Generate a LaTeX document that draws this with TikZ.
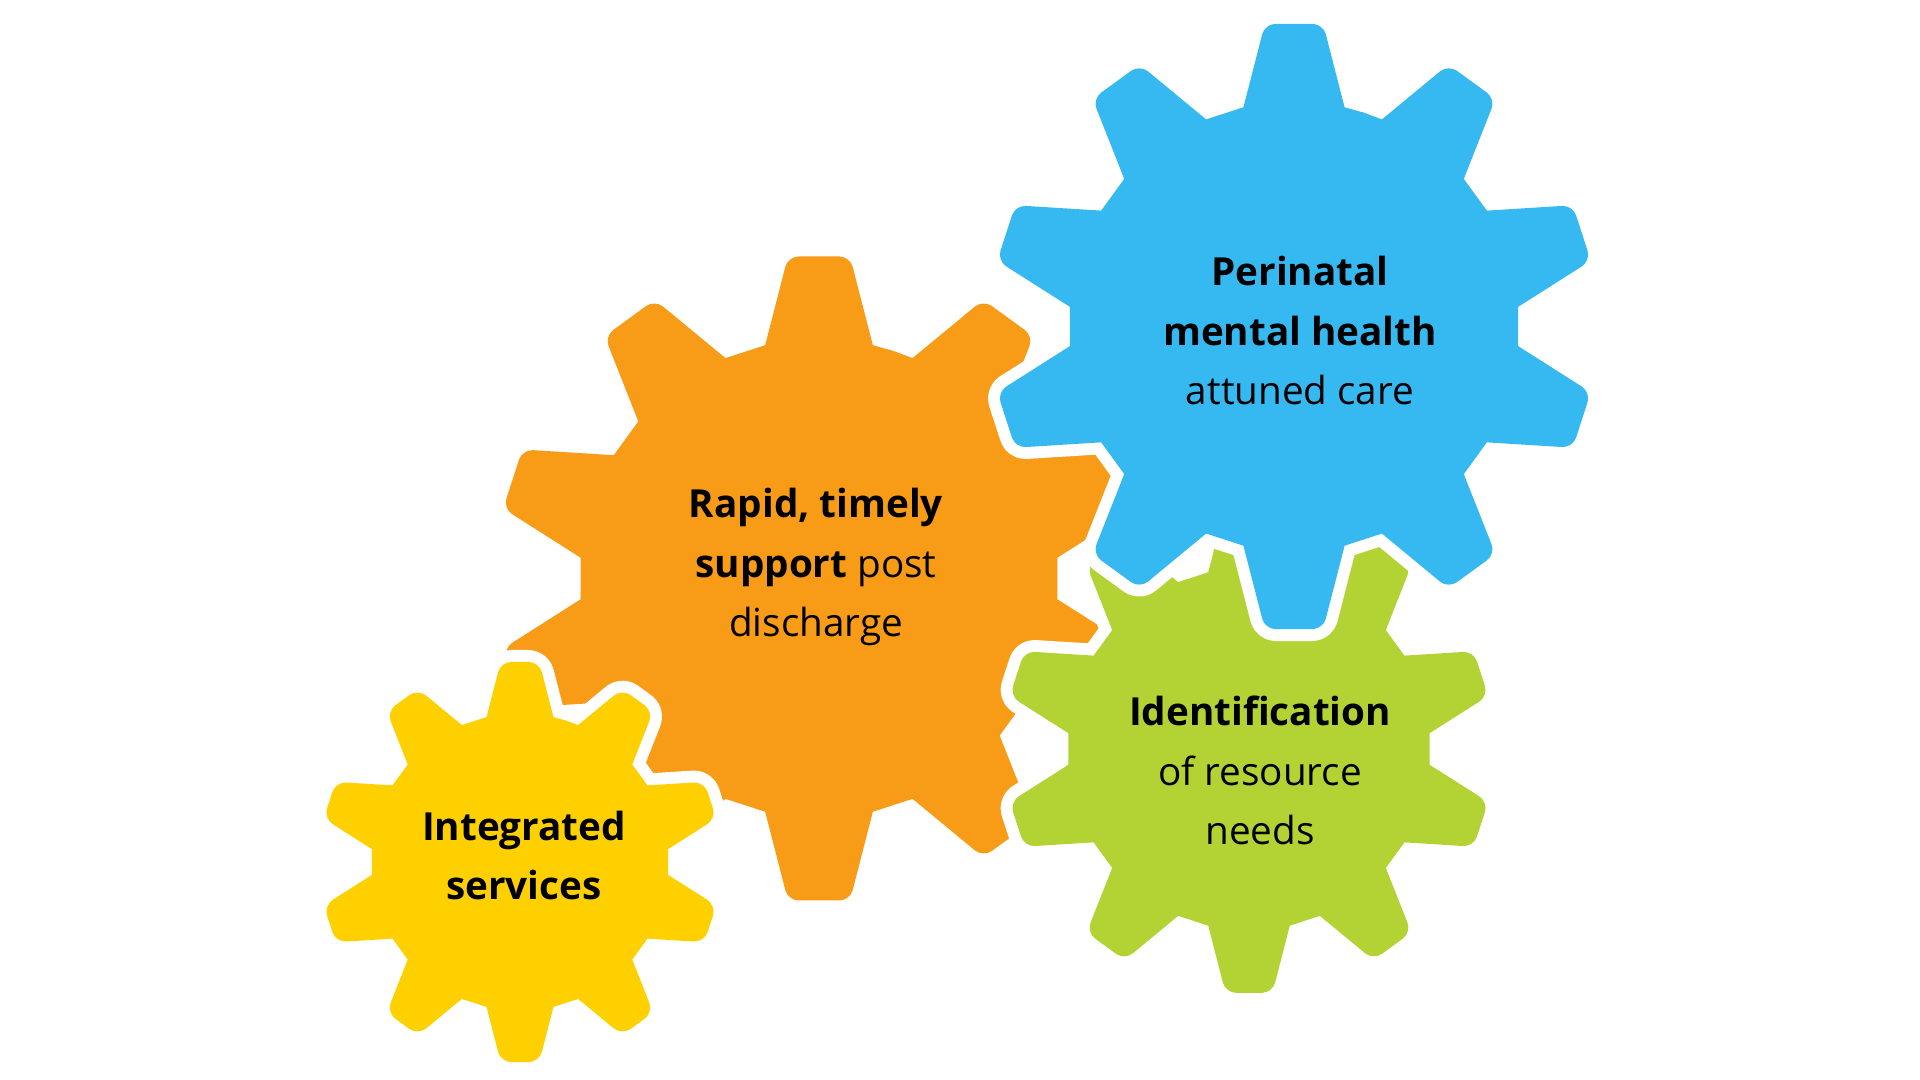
\documentclass[tikz,border=0pt]{standalone}
\usepackage{fontspec}
\setmainfont{Open Sans}
\definecolor{GearOrange}{HTML}{F89B16}
\definecolor{GearBlue}{HTML}{36B9F1}
\definecolor{GearGreen}{HTML}{B3D335}
\definecolor{GearYellow}{HTML}{FFD000}
\newcommand{\cog}[1]{({72}:{0.74*#1}) \foreach \k in {0,...,9}{ -- ({\k*36+77}:{0.74*#1}) [rounded corners=3pt] -- ({\k*36+84.5}:{#1}) -- ({\k*36+95.5}:{#1}) [sharp corners] -- ({\k*36+103}:{0.74*#1})} -- cycle}

\begin{document}
\begin{tikzpicture}[rim/.style={draw=white,line width=6.8pt,line join=round},
  lbl/.style={anchor=base,align=center,font=\fontsize{11pt}{17pt}\selectfont}]
  \useasboundingbox (0,0) rectangle (19.2,10.8); \fill[white] (0,0) rectangle (19.2,10.8);
  \coordinate (O) at (8.19,5.015); \coordinate (B) at (12.94,7.535); \coordinate (G) at (12.49,3.31); \coordinate (Y) at (5.20,2.18);
  \fill[GearOrange,shift={(O)}] \cog{3.235};
  \path[rim,shift={(G)}] \cog{2.45}; \fill[GearGreen,shift={(G)}] \cog{2.45};
  \path[rim,shift={(B)}] \cog{3.04}; \fill[GearBlue,shift={(B)}] \cog{3.04};
  \path[rim,shift={(Y)}] \cog{2.01}; \fill[GearYellow,shift={(Y)}] \cog{2.01};
  \node[lbl] (rapid) at (8.16,4.43) {\textbf{Rapid, timely}\\\textbf{support} post\\discharge};
  \node[lbl] (perinatal) at (13.0,6.75) {\textbf{Perinatal}\\\textbf{mental health}\\attuned care};
  \node[lbl] (ident) at (12.60,2.35) {\textbf{Identification}\\of resource\\needs};
  \node[lbl] (integ) at (5.24,1.80) {\textbf{Integrated}\\\textbf{services}};
\end{tikzpicture}
\end{document}
